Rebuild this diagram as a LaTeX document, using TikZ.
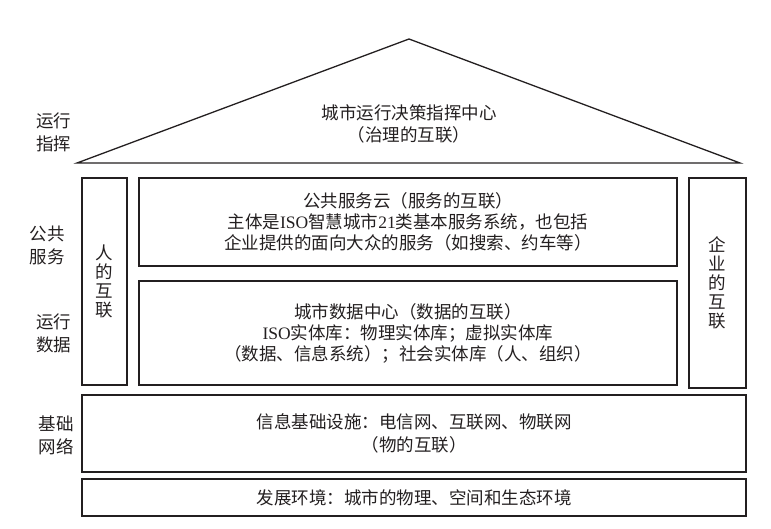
\documentclass[tikz,border=0pt]{standalone}
\usepackage{fontspec}
\setmainfont{Noto Sans CJK SC}
\newfontfamily\lat{Liberation Serif}
\definecolor{ink}{HTML}{231F20}
\begin{document}
\begin{tikzpicture}[x=1pt,y=-1pt,
  box/.style={draw=ink, line width=1.8pt, rectangle, inner sep=0pt, align=center, text=ink, font=\fontsize{17.5}{21}\selectfont},
  lbl/.style={align=center, text=ink, font=\fontsize{17.5}{23}\selectfont, inner sep=0pt},
  vbox/.style={box, font=\fontsize{17.5}{19}\selectfont},
  roof/.style={draw=ink, line width=1.3pt, line join=miter}]
\useasboundingbox (0,0) rectangle (771,529);
% roof
\coordinate (tl) at (77,163);
\coordinate (ta) at (409,39);
\coordinate (tr) at (740,163);
\draw[roof] (tl) -- (ta) -- (tr) -- cycle;
\node[lbl, font=\fontsize{17.5}{22}\selectfont] (roofText) at (409,124) {城市运行决策指挥中心\\（治理的互联）};
% boxes
\node[vbox, minimum width=45pt, minimum height=207pt] (people) at (104.5,281.5) {人\\的\\互\\联};
\node[box, minimum width=538pt, minimum height=88pt] (cloud) at (408,222)
  {公共服务云（服务的互联）\\主体是{\lat ISO}智慧城市{\lat 21}类基本服务系统，也包括\\企业提供的面向大众的服务（如搜索、约车等）};
\node[box, minimum width=538pt, minimum height=104pt] (data) at (408,333)
  {城市数据中心（数据的互联）\\{\lat ISO}实体库：物理实体库；虚拟实体库\\（数据、信息系统）；社会实体库（人、组织）};
\node[vbox, minimum width=57pt, minimum height=210pt] (firm) at (717.5,283) {企\\业\\的\\互\\联};
\node[box, minimum width=664pt, minimum height=77pt, font=\fontsize{17.5}{23}\selectfont] (infra) at (414,433.5)
  {信息基础设施：电信网、互联网、物联网\\（物的互联）};
\node[box, minimum width=664pt, minimum height=37pt] (env) at (414,497.5)
  {发展环境：城市的物理、空间和生态环境};
% side labels
\node[lbl] (l1) at (53.5,132.5) {运行\\指挥};
\node[lbl] (l2) at (47,245) {公共\\服务};
\node[lbl] (l3) at (53.5,333.5) {运行\\数据};
\node[lbl] (l4) at (56,435.5) {基础\\网络};
\end{tikzpicture}
\end{document}
